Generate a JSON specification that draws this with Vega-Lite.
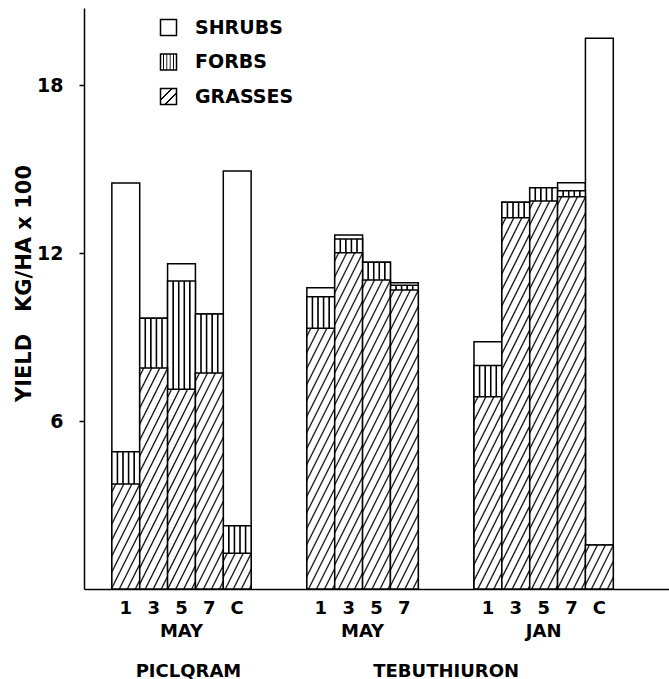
{
  "$schema": "https://vega.github.io/schema/vega-lite/v6.json",
  "width": 585,
  "height": 581,
  "autosize": "none",
  "padding": {"left": 84, "top": 8, "right": 0, "bottom": 90},
  "background": "white",
  "config": {"view": {"stroke": null}, "font": "DejaVu Sans"},
  "params": [
    {"name": "forbsGrad", "value": {"gradient": "linear", "x1": 0, "y1": 0, "x2": 1, "y2": 0, "stops": [
      {"offset": 0.155, "color": "#fff"}, {"offset": 0.188, "color": "#000"}, {"offset": 0.212, "color": "#000"}, {"offset": 0.245, "color": "#fff"},
      {"offset": 0.355, "color": "#fff"}, {"offset": 0.388, "color": "#000"}, {"offset": 0.412, "color": "#000"}, {"offset": 0.445, "color": "#fff"},
      {"offset": 0.555, "color": "#fff"}, {"offset": 0.588, "color": "#000"}, {"offset": 0.612, "color": "#000"}, {"offset": 0.645, "color": "#fff"},
      {"offset": 0.755, "color": "#fff"}, {"offset": 0.788, "color": "#000"}, {"offset": 0.812, "color": "#000"}, {"offset": 0.845, "color": "#fff"}
    ]}},
    {"name": "legendGrassGrad", "value": {"gradient": "linear", "x1": 0, "y1": 0, "x2": 1, "y2": 1, "stops": [
      {"offset": 0.32, "color": "#fff"}, {"offset": 0.345, "color": "#000"}, {"offset": 0.375, "color": "#000"}, {"offset": 0.4, "color": "#fff"},
      {"offset": 0.6, "color": "#fff"}, {"offset": 0.625, "color": "#000"}, {"offset": 0.655, "color": "#000"}, {"offset": 0.68, "color": "#fff"}
    ]}},
    {"name": "grassStops", "value": [
      {"offset": 0.0119, "color": "#fff"}, {"offset": 0.0179, "color": "#000"}, {"offset": 0.0239, "color": "#fff"},
      {"offset": 0.0476, "color": "#fff"}, {"offset": 0.0536, "color": "#000"}, {"offset": 0.0596, "color": "#fff"},
      {"offset": 0.0833, "color": "#fff"}, {"offset": 0.0893, "color": "#000"}, {"offset": 0.0953, "color": "#fff"},
      {"offset": 0.1190, "color": "#fff"}, {"offset": 0.1250, "color": "#000"}, {"offset": 0.1310, "color": "#fff"},
      {"offset": 0.1547, "color": "#fff"}, {"offset": 0.1607, "color": "#000"}, {"offset": 0.1667, "color": "#fff"},
      {"offset": 0.1904, "color": "#fff"}, {"offset": 0.1964, "color": "#000"}, {"offset": 0.2024, "color": "#fff"},
      {"offset": 0.2261, "color": "#fff"}, {"offset": 0.2321, "color": "#000"}, {"offset": 0.2381, "color": "#fff"},
      {"offset": 0.2619, "color": "#fff"}, {"offset": 0.2679, "color": "#000"}, {"offset": 0.2739, "color": "#fff"},
      {"offset": 0.2976, "color": "#fff"}, {"offset": 0.3036, "color": "#000"}, {"offset": 0.3096, "color": "#fff"},
      {"offset": 0.3333, "color": "#fff"}, {"offset": 0.3393, "color": "#000"}, {"offset": 0.3453, "color": "#fff"},
      {"offset": 0.3690, "color": "#fff"}, {"offset": 0.3750, "color": "#000"}, {"offset": 0.3810, "color": "#fff"},
      {"offset": 0.4047, "color": "#fff"}, {"offset": 0.4107, "color": "#000"}, {"offset": 0.4167, "color": "#fff"},
      {"offset": 0.4404, "color": "#fff"}, {"offset": 0.4464, "color": "#000"}, {"offset": 0.4524, "color": "#fff"},
      {"offset": 0.4761, "color": "#fff"}, {"offset": 0.4821, "color": "#000"}, {"offset": 0.4881, "color": "#fff"},
      {"offset": 0.5119, "color": "#fff"}, {"offset": 0.5179, "color": "#000"}, {"offset": 0.5239, "color": "#fff"},
      {"offset": 0.5476, "color": "#fff"}, {"offset": 0.5536, "color": "#000"}, {"offset": 0.5596, "color": "#fff"},
      {"offset": 0.5833, "color": "#fff"}, {"offset": 0.5893, "color": "#000"}, {"offset": 0.5953, "color": "#fff"},
      {"offset": 0.6190, "color": "#fff"}, {"offset": 0.6250, "color": "#000"}, {"offset": 0.6310, "color": "#fff"},
      {"offset": 0.6547, "color": "#fff"}, {"offset": 0.6607, "color": "#000"}, {"offset": 0.6667, "color": "#fff"},
      {"offset": 0.6904, "color": "#fff"}, {"offset": 0.6964, "color": "#000"}, {"offset": 0.7024, "color": "#fff"},
      {"offset": 0.7261, "color": "#fff"}, {"offset": 0.7321, "color": "#000"}, {"offset": 0.7381, "color": "#fff"},
      {"offset": 0.7619, "color": "#fff"}, {"offset": 0.7679, "color": "#000"}, {"offset": 0.7739, "color": "#fff"},
      {"offset": 0.7976, "color": "#fff"}, {"offset": 0.8036, "color": "#000"}, {"offset": 0.8096, "color": "#fff"},
      {"offset": 0.8333, "color": "#fff"}, {"offset": 0.8393, "color": "#000"}, {"offset": 0.8453, "color": "#fff"},
      {"offset": 0.8690, "color": "#fff"}, {"offset": 0.8750, "color": "#000"}, {"offset": 0.8810, "color": "#fff"},
      {"offset": 0.9047, "color": "#fff"}, {"offset": 0.9107, "color": "#000"}, {"offset": 0.9167, "color": "#fff"},
      {"offset": 0.9404, "color": "#fff"}, {"offset": 0.9464, "color": "#000"}, {"offset": 0.9524, "color": "#fff"},
      {"offset": 0.9761, "color": "#fff"}, {"offset": 0.9821, "color": "#000"}, {"offset": 0.9881, "color": "#fff"}
    ]}
  ],
  "data": {"values": [
    {"bar": "P1", "part": "Grasses", "yield": 3.75},
    {"bar": "P1", "part": "Forbs", "yield": 1.15},
    {"bar": "P1", "part": "Shrubs", "yield": 9.6},
    {"bar": "P3", "part": "Grasses", "yield": 7.89},
    {"bar": "P3", "part": "Forbs", "yield": 1.78},
    {"bar": "P5", "part": "Grasses", "yield": 7.13},
    {"bar": "P5", "part": "Forbs", "yield": 3.87},
    {"bar": "P5", "part": "Shrubs", "yield": 0.62},
    {"bar": "P7", "part": "Grasses", "yield": 7.71},
    {"bar": "P7", "part": "Forbs", "yield": 2.11},
    {"bar": "PC", "part": "Grasses", "yield": 1.28},
    {"bar": "PC", "part": "Forbs", "yield": 0.98},
    {"bar": "PC", "part": "Shrubs", "yield": 12.67},
    {"bar": "T1", "part": "Grasses", "yield": 9.31},
    {"bar": "T1", "part": "Forbs", "yield": 1.13},
    {"bar": "T1", "part": "Shrubs", "yield": 0.32},
    {"bar": "T3", "part": "Grasses", "yield": 12.01},
    {"bar": "T3", "part": "Forbs", "yield": 0.49},
    {"bar": "T3", "part": "Shrubs", "yield": 0.14},
    {"bar": "T5", "part": "Grasses", "yield": 11.04},
    {"bar": "T5", "part": "Forbs", "yield": 0.63},
    {"bar": "T7", "part": "Grasses", "yield": 10.68},
    {"bar": "T7", "part": "Forbs", "yield": 0.17},
    {"bar": "T7", "part": "Shrubs", "yield": 0.09},
    {"bar": "J1", "part": "Grasses", "yield": 6.87},
    {"bar": "J1", "part": "Forbs", "yield": 1.11},
    {"bar": "J1", "part": "Shrubs", "yield": 0.85},
    {"bar": "J3", "part": "Grasses", "yield": 13.26},
    {"bar": "J3", "part": "Forbs", "yield": 0.55},
    {"bar": "J5", "part": "Grasses", "yield": 13.86},
    {"bar": "J5", "part": "Forbs", "yield": 0.47},
    {"bar": "J7", "part": "Grasses", "yield": 14.01},
    {"bar": "J7", "part": "Forbs", "yield": 0.21},
    {"bar": "J7", "part": "Shrubs", "yield": 0.29},
    {"bar": "JC", "part": "Grasses", "yield": 1.57},
    {"bar": "JC", "part": "Shrubs", "yield": 18.1}
  ]},
  "encoding": {
    "x": {
      "field": "bar",
      "type": "nominal",
      "scale": {
        "type": "band",
        "domain": ["_0","_1","P1","_3","P3","_5","P5","PB","P7","_9","PC","_11","_12","_13","_14","_15","T1","_17","T3","TM","T5","_21","T7","_23","_24","TB","_26","_27","J1","_29","J3","_31","J5","_33","J7","_35","JC","_37","_38","_39","_40"],
        "paddingInner": 0,
        "paddingOuter": 0.5
      },
      "axis": {
        "title": null,
        "ticks": false,
        "domainColor": "black",
        "domainWidth": 1.5,
        "labelFont": "DejaVu Sans",
        "labelFontSize": 18,
        "labelFontWeight": "bold",
        "labelColor": "black",
        "labelPadding": {"condition": [{"test": "datum.value == 'TB' || datum.value == 'PB'", "value": 73}, {"test": "datum.value == 'TM'", "value": 33}], "value": 10},
        "labelOffset": {"condition": {"test": "datum.value == 'PB'", "value": -7}, "value": 0},
        "labelLineHeight": 23,
        "labelOverlap": false,
        "labelBound": false,
        "labelFlush": false,
        "labelAngle": 0,
        "labelExpr": "datum.value == 'P5' ? ['5', 'MAY'] : datum.value == 'J5' ? ['5', 'JAN'] : datum.value == 'TM' ? 'MAY' : datum.value == 'TB' ? 'TEBUTHIURON' : datum.value == 'PB' ? 'PICLQRAM' : substring(datum.value, 0, 1) == '_' ? '' : substring(datum.value, 1, 2)"
      }
    },
    "y": {
      "aggregate": "sum",
      "field": "yield",
      "type": "quantitative",
      "stack": null,
      "scale": {"domain": [0, 20.75], "nice": false, "zero": true},
      "axis": {
        "title": "YIELD\u00a0\u00a0\u00a0KG/HA\u00a0x\u00a0100",
        "values": [6, 12, 18],
        "grid": false,
        "domainColor": "black",
        "domainWidth": 1.5,
        "tickColor": "black",
        "tickWidth": 1.5,
        "tickSize": 5,
        "labelFont": "DejaVu Sans",
        "labelFontSize": 19,
        "labelFontWeight": "bold",
        "labelColor": "black",
        "labelPadding": 16,
        "titleFont": "DejaVu Sans",
        "titleFontSize": 21,
        "titleFontWeight": "bold",
        "titleColor": "black",
        "titleX": -60,
        "titleY": 275,
        "titleBaseline": "middle",
        "titleAngle": -90
      }
    }
  },
  "layer": [
    {
      "mark": {"type": "bar", "width": {"band": 2}, "stroke": "black", "strokeWidth": 1.5},
      "encoding": {
        "fill": {
          "datum": "Shrubs",
          "type": "nominal",
          "scale": {
            "domain": ["Shrubs", "Forbs", "Grasses"],
            "range": ["white", {"expr": "forbsGrad"}, {"expr": "legendGrassGrad"}]
          },
          "legend": {
            "title": null,
            "orient": "none",
            "legendX": 75,
            "legendY": 10,
            "direction": "vertical",
            "padding": 0,
            "symbolType": "square",
            "symbolSize": 256,
            "symbolStrokeColor": "black",
            "symbolStrokeWidth": 1.5,
            "labelFont": "DejaVu Sans",
            "labelFontSize": 19,
            "labelFontWeight": "bold",
            "labelColor": "black",
            "labelOffset": 17,
            "rowPadding": 11.5,
            "labelExpr": "upper(datum.label)"
          }
        }
      }
    },
    {
      "transform": [{"filter": "datum.part != 'Shrubs'"}],
      "mark": {"type": "bar", "width": {"band": 2}, "stroke": "black", "strokeWidth": 1.5},
      "encoding": {
        "fill": {"datum": "Forbs", "type": "nominal"}
      }
    },
    {
      "transform": [{"filter": "datum.part == 'Grasses'"}],
      "mark": {
        "type": "bar",
        "width": {"band": 2},
        "stroke": "black",
        "strokeWidth": 1.5,
        "fill": {"expr": "{gradient: 'linear', x1: 0, y1: 0, x2: 0.12438 / (0.01547 + pow(0.0625 * datum.sum_yield, 2)), y2: 0.0625 * datum.sum_yield / (0.01547 + pow(0.0625 * datum.sum_yield, 2)), stops: grassStops}"}
      }
    }
  ]
}
